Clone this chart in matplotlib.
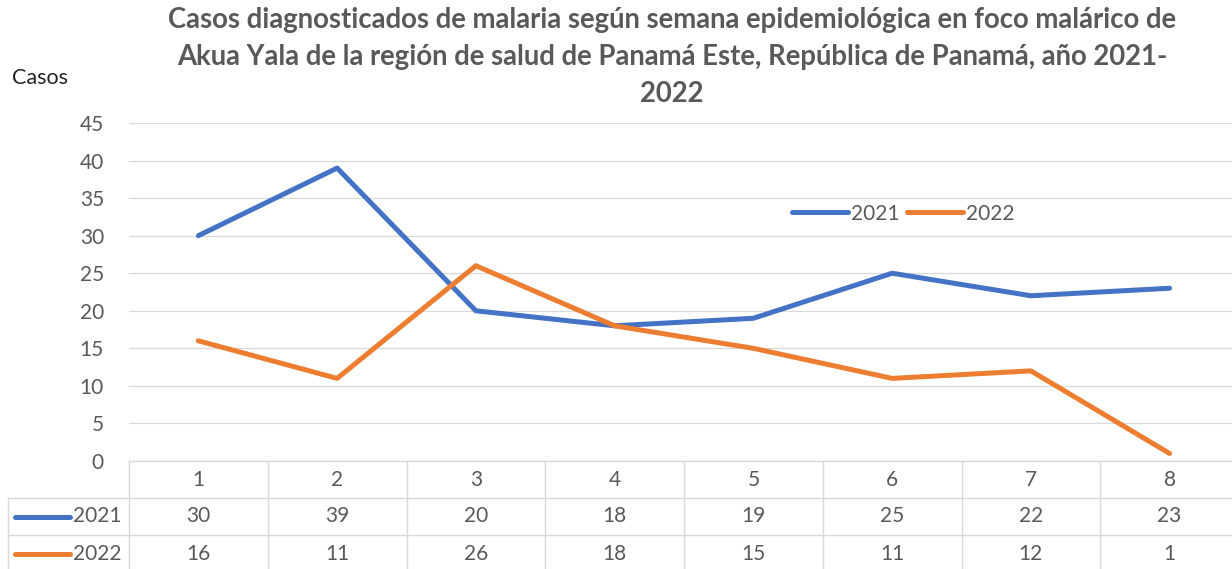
import matplotlib.pyplot as plt

# data
semanas = [1, 2, 3, 4, 5, 6, 7, 8]
casos_2021 = [30, 39, 20, 18, 19, 25, 22, 23]
casos_2022 = [16, 11, 26, 18, 15, 11, 12, 1]
series = [("2021", casos_2021, "#4472C4"), ("2022", casos_2022, "#ED7D31")]
titulo = ("Casos diagnosticados de malaria según semana epidemiológica en foco malárico de\n"
          "Akua Yala de la región de salud de Panamá Este, República de Panamá, año 2021-\n"
          "2022")

plt.rcParams['font.family'] = ['Lato', 'DejaVu Sans']
gris = "#595959"
borde = "#D9D9D9"

W, H = 1232, 569
fig = plt.figure(figsize=(W / 100, H / 100), dpi=100)
ax = fig.add_axes([129 / W, (H - 461) / H, 1110 / W, 338 / H])

for nombre, vals, color in series:
    ax.plot(semanas, vals, color=color, lw=3.6, solid_capstyle='round',
            solid_joinstyle='round', label=nombre, zorder=3)

ax.set_xlim(0.5, 8.5)
ax.set_ylim(0, 45)
ax.set_yticks(range(0, 46, 5))
ax.set_xticks([])
ax.grid(axis='y', color=borde, lw=0.9)
ax.set_axisbelow(True)
for s in ax.spines.values():
    s.set_visible(False)
ax.tick_params(axis='y', length=0, pad=18, labelsize=15, labelcolor=gris)

leg = ax.legend(loc='upper left', bbox_to_anchor=(0.58, 0.817), ncol=2, frameon=False,
                fontsize=15, handlelength=2.7, handletextpad=0.15, columnspacing=0.35,
                labelcolor=gris)
for l in leg.get_lines():
    l.set_linewidth(3.6)

fig.text(672 / W, 1 - 7 / H, titulo, ha='center', va='top', fontsize=19.8,
         fontweight='bold', color=gris, linespacing=1.53)
fig.text(12 / W, 1 - 78 / H, "Casos", ha='left', va='center', fontsize=15.5, color="#222222")

# data table below the plot
tr = ax.get_xaxis_transform()
row_h = 37 / 338
x_left = 0.5 - 121 / 138.75
x_right = 8.5
lk = dict(color=borde, lw=1.0, clip_on=False, transform=tr)
ax.plot([0.5, x_right], [0, 0], **lk)
for r in range(1, 4):
    ax.plot([x_left, x_right], [-r * row_h, -r * row_h], **lk)
for i in range(9):
    ax.plot([0.5 + i, 0.5 + i], [0, -3 * row_h], **lk)
ax.plot([x_left, x_left], [-row_h, -3 * row_h], **lk)

tk = dict(ha='center', va='center', fontsize=15, color=gris, transform=tr, clip_on=False)
for s in semanas:
    ax.text(s, -0.5 * row_h, str(s), **tk)
for r, (nombre, vals, color) in enumerate(series, start=1):
    yc = -(r + 0.5) * row_h
    for s, v in zip(semanas, vals):
        ax.text(s, yc, str(v), **tk)
    ax.plot([x_left + 0.05, x_left + 0.45], [yc, yc], color=color, lw=3.6,
            solid_capstyle='round', transform=tr, clip_on=False)
    ax.text(x_left + 0.47, yc, nombre, ha='left', va='center', fontsize=15,
            color=gris, transform=tr, clip_on=False)

fig.savefig("out.png", dpi=100)
